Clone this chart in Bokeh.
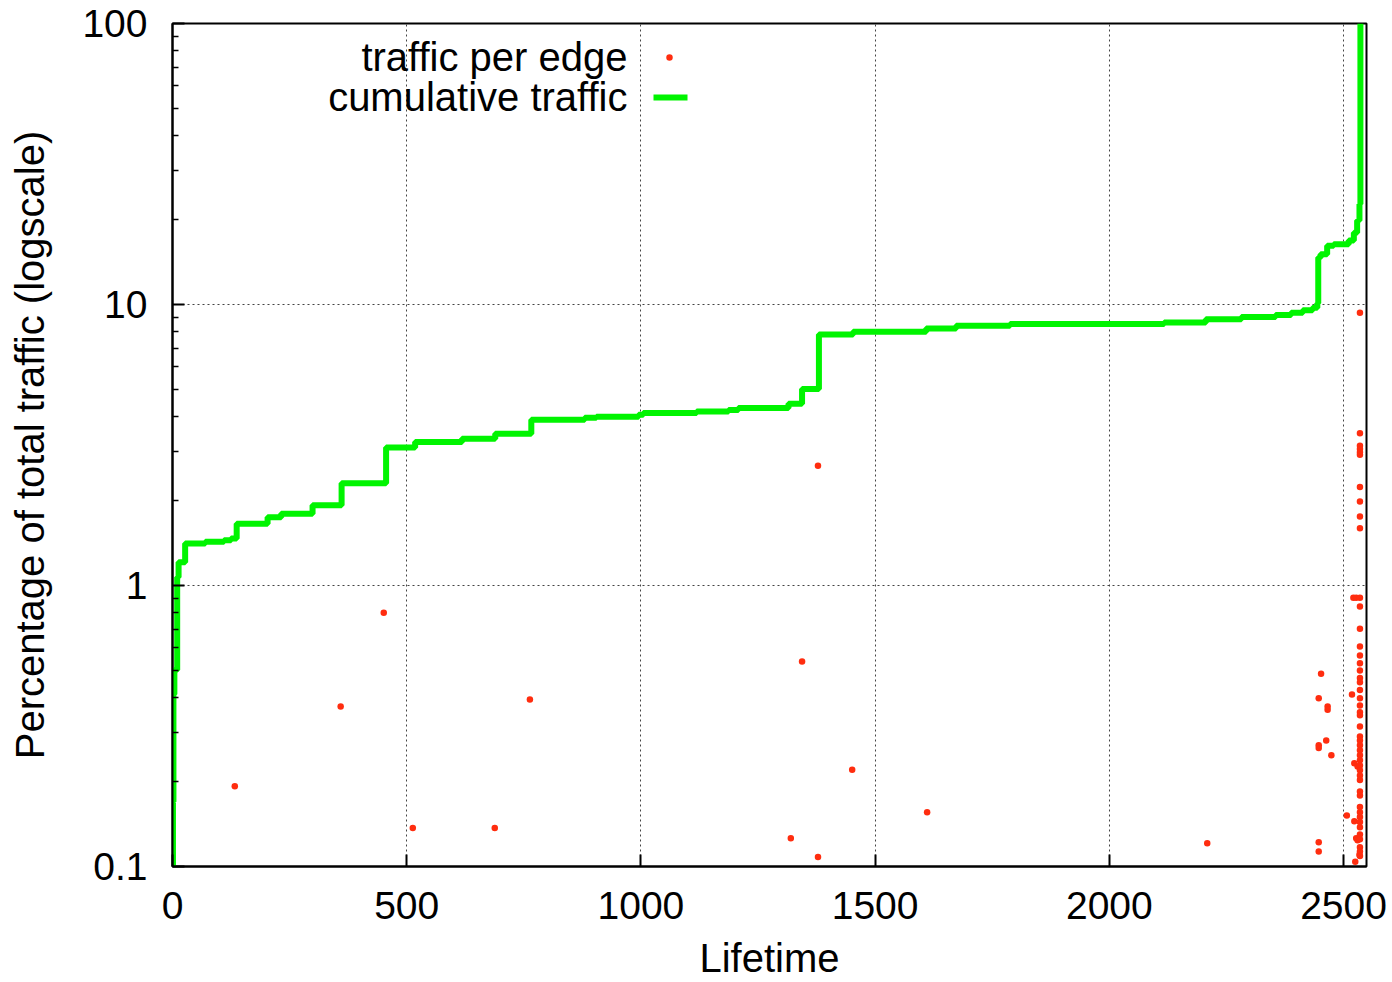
from bokeh.plotting import figure
from bokeh.models import Range1d, LinearScale, FixedTicker
from bokeh.core.properties import value
from bokeh.embed import file_html
from bokeh.resources import INLINE

# Traffic carried by individual edges, by edge lifetime (percent of total)
edge_lifetime = [133, 359, 451, 513, 688, 763, 1320, 1344, 1378, 1378, 1451, 1611, 2209,
                 2452, 2447, 2466, 2466, 2463, 2447, 2447, 2474, 2447, 2447,
                 2518, 2523, 2530, 2507, 2523, 2527, 2530, 2534, 2525, 2521, 2527]
edge_traffic = [0.193, 0.371, 0.80, 0.137, 0.137, 0.393, 0.126, 0.537, 2.67, 0.108, 0.221, 0.156, 0.121,
                0.485, 0.397, 0.371, 0.361, 0.281, 0.270, 0.264, 0.249, 0.122, 0.113,
                0.409, 0.233, 0.227, 0.152, 0.145, 0.126, 0.124, 0.110, 0.104, 0.904, 0.904]

# Edges that all share the longest lifetime
long_lived_traffic = [9.34, 3.48, 3.14, 3.06, 2.98, 2.92, 2.24, 1.99, 1.76, 1.60,
                      0.904, 0.842, 0.701, 0.607, 0.563, 0.529, 0.498, 0.469, 0.453, 0.425,
                      0.397, 0.374, 0.354, 0.345, 0.315, 0.290, 0.281, 0.270, 0.259, 0.249,
                      0.239, 0.229, 0.220, 0.211, 0.203, 0.185, 0.179, 0.163, 0.156, 0.150,
                      0.144, 0.138, 0.130, 0.125, 0.117, 0.113, 0.109]
long_lived_lifetime = [2535] * len(long_lived_traffic)

# Cumulative traffic share as lifetime grows
cum_lifetime = [0, 1, 2, 4, 10, 13, 27, 70, 110, 125, 137, 203, 232, 299, 361, 456, 518, 618,
                689, 766, 880, 905, 995, 1005, 1119, 1187, 1208, 1315, 1344, 1380, 1453, 1609,
                1673, 1788, 2117, 2206, 2282, 2355, 2388, 2413, 2434, 2444, 2446, 2451, 2465,
                2479, 2511, 2522, 2529, 2534, 2536]
cum_traffic = [0.08, 0.17, 0.41, 0.50, 1.07, 1.21, 1.41, 1.43, 1.45, 1.47, 1.66, 1.75, 1.80, 1.93,
               2.31, 3.10, 3.24, 3.33, 3.47, 3.89, 3.95, 3.99, 4.05, 4.11, 4.16, 4.21, 4.28, 4.43,
               5.00, 7.82, 8.00, 8.22, 8.40, 8.52, 8.63, 8.86, 9.03, 9.18, 9.35, 9.53, 9.73,
               10.1, 14.7, 15.1, 16.2, 16.4, 16.9, 18.0, 19.9, 22.8, 100]

x_ticks = [0, 500, 1000, 1500, 2000, 2500]
y_ticks = [0.1, 1, 10, 100]
y_tick_labels = ["0.1", "1", "10", "100"]
y_minor = [0.2, 0.3, 0.4, 0.5, 0.6, 0.7, 0.8, 0.9,
           2, 3, 4, 5, 6, 7, 8, 9,
           20, 30, 40, 50, 60, 70, 80, 90]

legend_labels = ["traffic per edge", "cumulative traffic"]

FONT = "Liberation Sans"
RED = "#ff2d0f"
GREEN = "#00f400"

W, H = 1392, 982
LEFT, RIGHT, TOP, BOTTOM = 172, 26, 23, 116
FW, FH = W - LEFT - RIGHT, H - TOP - BOTTOM

p = figure(width=W, height=H, output_backend="svg", toolbar_location=None,
           x_range=Range1d(0, 2549), y_range=Range1d(0.1, 100), y_axis_type="log",
           min_border_left=LEFT, min_border_right=RIGHT,
           min_border_top=TOP, min_border_bottom=BOTTOM)
p.background_fill_color = "white"
p.border_fill_color = "white"
p.outline_line_color = "black"
p.outline_line_width = 2

# pixel-space ranges for the in-plot key
p.extra_x_ranges = {"px": Range1d(0, FW)}
p.extra_y_ranges = {"px": Range1d(0, FH)}
p.extra_x_scales = {"px": LinearScale()}
p.extra_y_scales = {"px": LinearScale()}

p.scatter(edge_lifetime, edge_traffic, size=6.5, fill_color=RED, line_color=None)
p.scatter(long_lived_lifetime, long_lived_traffic, size=6.5, fill_color=RED, line_color=None)
p.step(cum_lifetime, cum_traffic, mode="after", line_color=GREEN, line_width=6)

# key
p.text(x=[455, 455], y=[810, 770], text=legend_labels, x_range_name="px", y_range_name="px",
       text_font=value(FONT), text_font_size="40px", text_align="right",
       text_baseline="alphabetic", text_color="black")
p.scatter(x=[497], y=[809], size=6.5, fill_color=RED, line_color=None,
          x_range_name="px", y_range_name="px")
p.line(x=[481, 515], y=[769, 769], line_color=GREEN, line_width=6,
       x_range_name="px", y_range_name="px")

# axes
p.xaxis.ticker = FixedTicker(ticks=x_ticks)
p.yaxis.ticker = FixedTicker(ticks=y_ticks, minor_ticks=y_minor)
p.yaxis.major_label_overrides = dict(zip(y_ticks, y_tick_labels))
p.xaxis.axis_label = "Lifetime"
p.yaxis.axis_label = "Percentage of total traffic (logscale)"

for ax in (p.xaxis[0], p.yaxis[0]):
    ax.axis_line_color = "black"
    ax.axis_line_width = 2
    ax.major_tick_in = 12
    ax.major_tick_out = 0
    ax.major_tick_line_width = 2
    ax.major_label_text_font = FONT
    ax.major_label_text_font_size = "39px"
    ax.major_label_text_color = "black"
    ax.axis_label_text_font = FONT
    ax.axis_label_text_font_size = "40px"
    ax.axis_label_text_font_style = "normal"
    ax.axis_label_text_color = "black"

p.xaxis.minor_tick_line_color = None
p.xaxis.major_label_standoff = 25
p.xaxis.axis_label_standoff = 14
p.yaxis.minor_tick_in = 6
p.yaxis.minor_tick_out = 0
p.yaxis.minor_tick_line_width = 1.5
p.yaxis.major_label_standoff = 25
p.yaxis.axis_label_standoff = 27

p.grid.grid_line_color = "#444444"
p.grid.grid_line_dash = "2 3"
p.grid.grid_line_width = 1

open("out.html", "w").write(file_html(p, INLINE))
